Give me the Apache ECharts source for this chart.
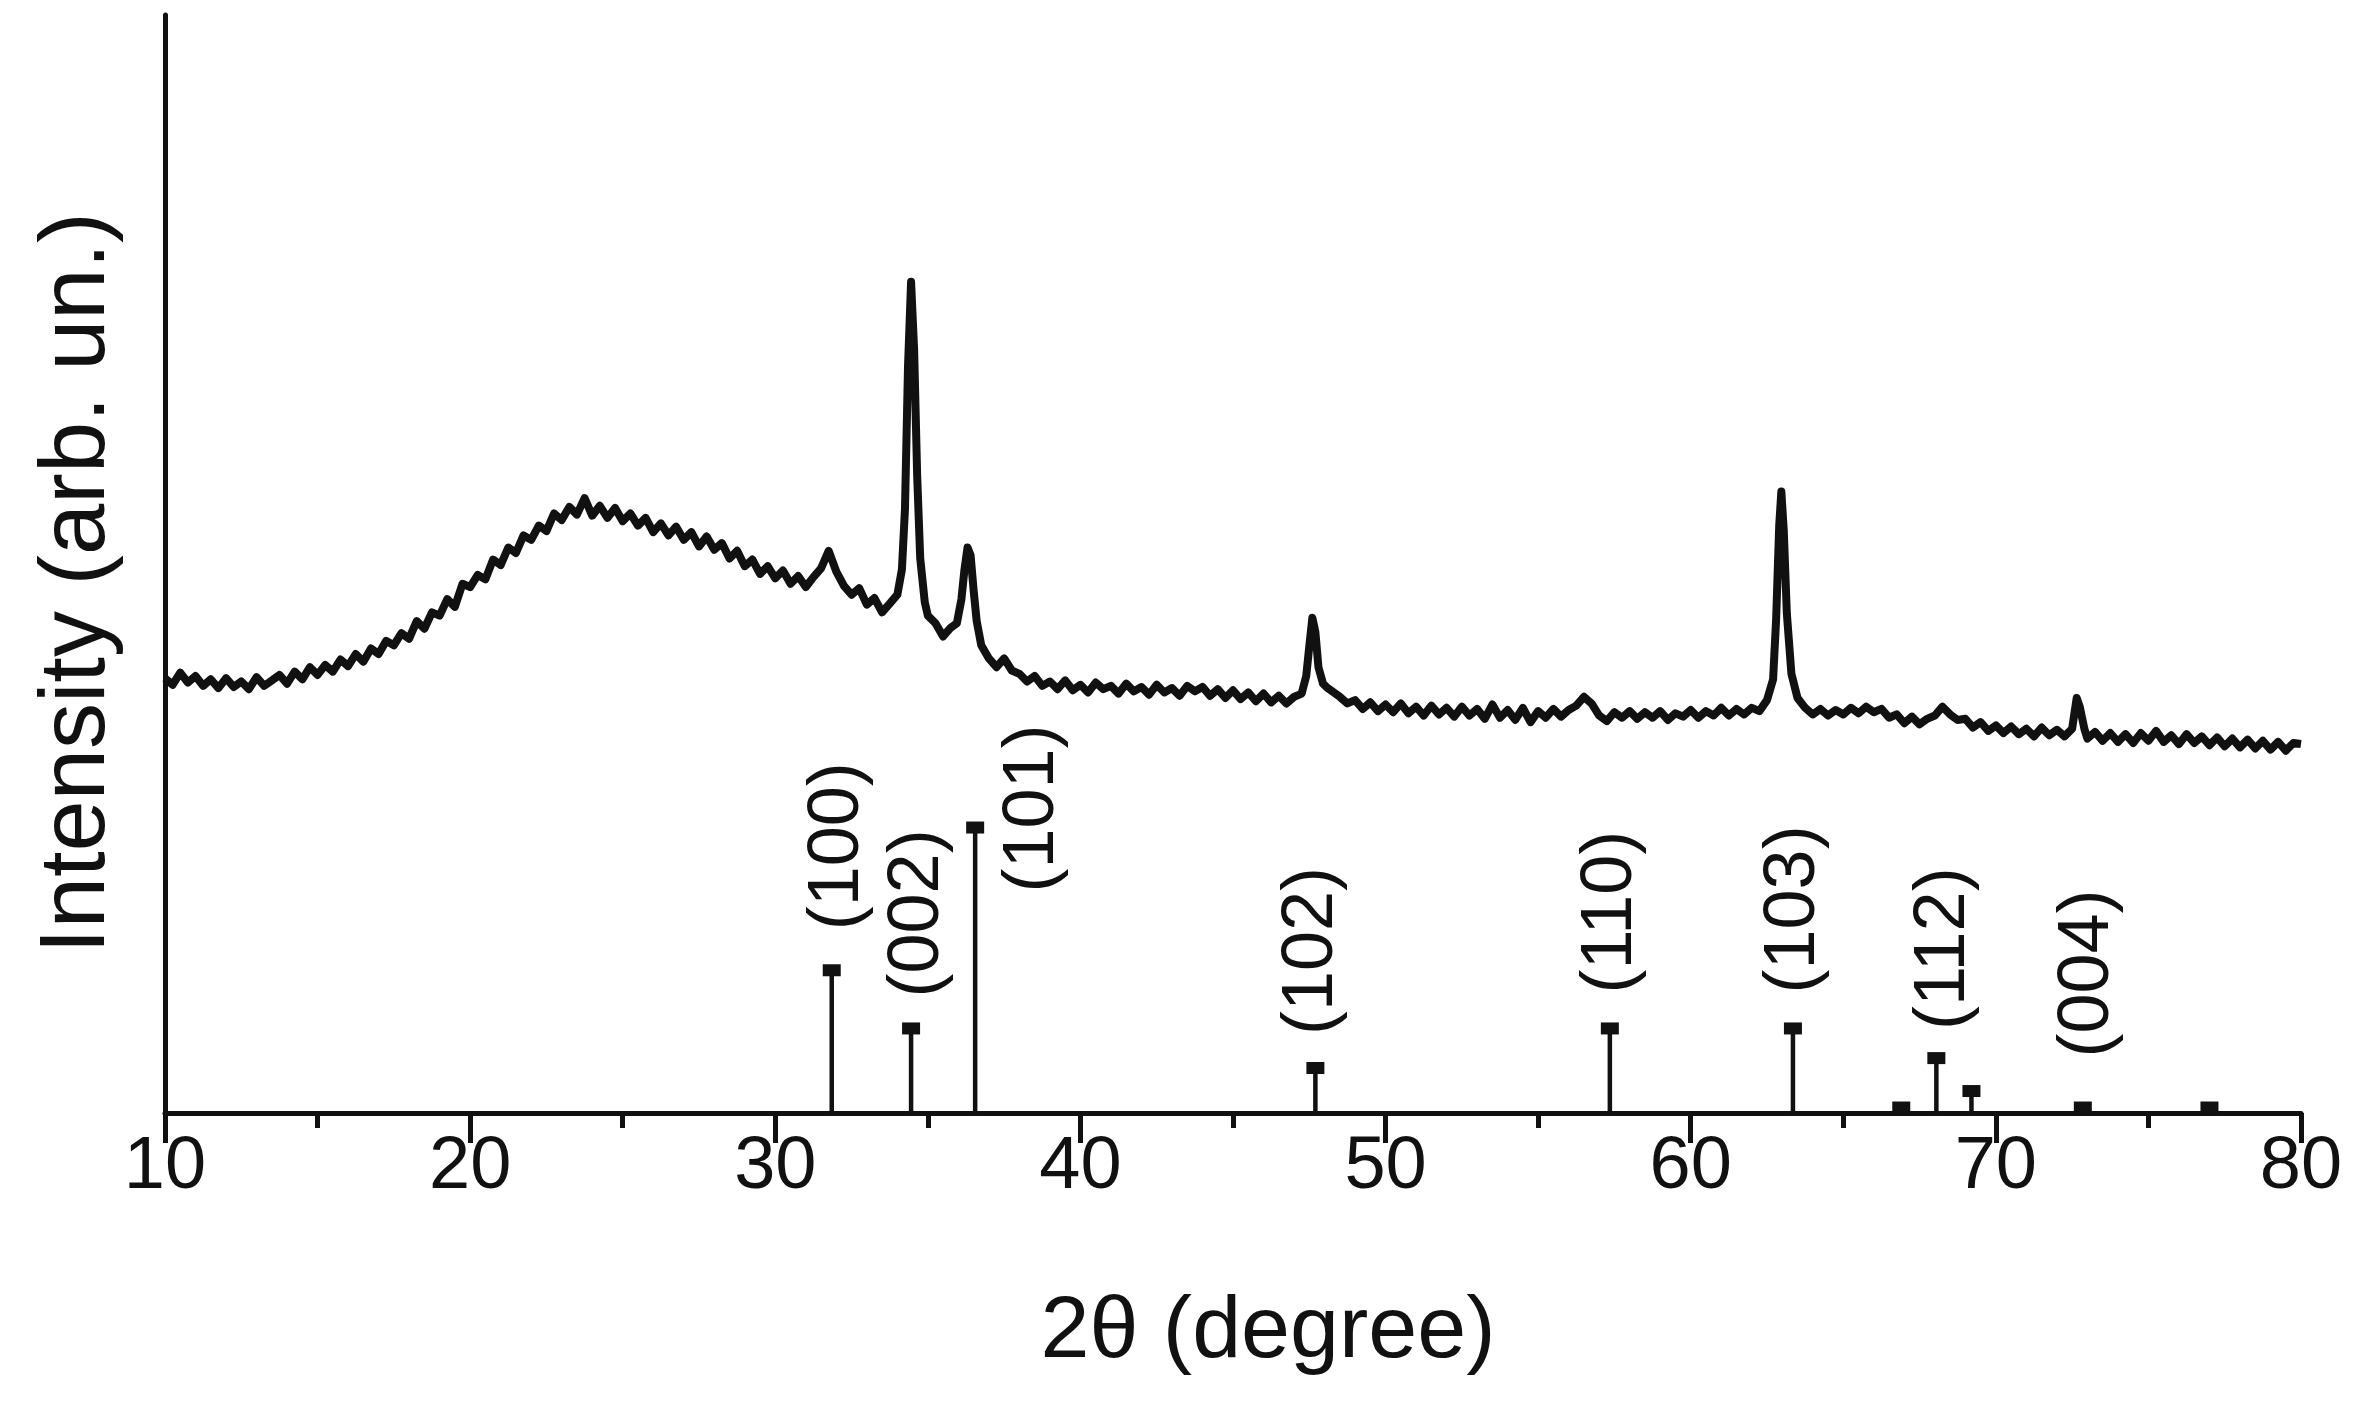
<!DOCTYPE html>
<html>
<head>
<meta charset="utf-8">
<script src="https://cdn.jsdelivr.net/npm/echarts@6/dist/echarts.min.js"></script>
<style>
html,body{margin:0;padding:0;background:#fff;}
#chart{width:2358px;height:1412px;}
</style>
</head>
<body>
<div id="chart"></div>
<script>
// Measured XRD pattern: [2theta (deg), intensity (arb. un.)]
var pattern = [
[10.00,39.6],[10.25,39.0],[10.50,40.1],[10.75,39.2],[11.00,39.8],[11.25,38.9],[11.50,39.5],[11.75,38.7],
[12.00,39.6],[12.25,38.8],[12.50,39.3],[12.75,38.6],[13.00,39.7],[13.25,38.9],[13.50,39.4],[13.75,39.9],
[14.00,39.1],[14.25,40.2],[14.50,39.5],[14.75,40.6],[15.00,39.9],[15.25,40.8],[15.50,40.2],[15.75,41.3],
[16.00,40.7],[16.25,41.8],[16.50,41.1],[16.75,42.3],[17.00,41.8],[17.25,43.0],[17.50,42.6],[17.75,43.7],
[18.00,43.2],[18.25,44.8],[18.50,44.1],[18.75,45.6],[19.00,45.3],[19.25,46.8],[19.50,46.1],[19.75,48.2],
[20.00,47.9],[20.25,49.0],[20.50,48.6],[20.75,50.4],[21.00,49.9],[21.25,51.5],[21.50,51.0],[21.75,52.6],
[22.00,52.2],[22.25,53.5],[22.50,53.0],[22.75,54.6],[23.00,54.0],[23.25,55.2],[23.50,54.5],[23.75,56.0],
[24.00,54.4],[24.25,55.3],[24.50,54.2],[24.75,55.1],[25.00,53.9],[25.25,54.6],[25.50,53.5],[25.75,54.2],
[26.00,52.9],[26.25,53.7],[26.50,52.6],[26.75,53.4],[27.00,52.2],[27.25,52.9],[27.50,51.6],[27.75,52.5],
[28.00,51.3],[28.25,51.9],[28.50,50.5],[28.75,51.2],[29.00,49.8],[29.25,50.4],[29.50,49.1],[29.75,49.8],
[30.00,48.7],[30.25,49.4],[30.50,48.2],[30.75,48.9],[31.00,47.9],[31.25,48.8],[31.50,49.6],[31.75,51.2],
[32.00,49.3],[32.25,48.0],[32.50,47.2],[32.75,47.8],[33.00,46.3],[33.25,46.9],[33.50,45.6],[33.75,46.4],
[34.00,47.2],[34.15,49.5],[34.25,55.0],[34.35,68.0],[34.45,75.7],[34.55,69.5],[34.65,58.0],[34.75,50.5],
[34.90,46.5],[35.00,45.3],[35.25,44.6],[35.50,43.4],[35.75,44.2],[35.95,44.6],[36.10,46.8],[36.20,49.5],
[36.30,51.5],[36.40,50.8],[36.50,47.6],[36.60,44.8],[36.75,42.6],[37.00,41.4],[37.25,40.6],[37.50,41.4],
[37.75,40.3],[38.00,40.0],[38.25,39.3],[38.50,39.8],[38.75,38.9],[39.00,39.3],[39.25,38.6],[39.50,39.4],
[39.75,38.5],[40.00,39.0],[40.25,38.3],[40.50,39.2],[40.75,38.6],[41.00,38.9],[41.25,38.2],[41.50,39.1],
[41.75,38.4],[42.00,38.8],[42.25,38.1],[42.50,39.0],[42.75,38.3],[43.00,38.7],[43.25,38.0],[43.50,38.9],
[43.75,38.4],[44.00,38.8],[44.25,38.0],[44.50,38.6],[44.75,37.8],[45.00,38.5],[45.25,37.7],[45.50,38.3],
[45.75,37.5],[46.00,38.2],[46.25,37.4],[46.50,38.0],[46.75,37.3],[47.00,37.9],[47.25,38.2],[47.40,39.8],
[47.50,42.5],[47.60,45.1],[47.70,43.8],[47.80,40.6],[47.95,39.1],[48.10,38.7],[48.25,38.4],[48.50,37.9],
[48.75,37.3],[49.00,37.6],[49.25,36.8],[49.50,37.4],[49.75,36.6],[50.00,37.2],[50.25,36.5],[50.50,37.3],
[50.75,36.4],[51.00,37.0],[51.25,36.2],[51.50,37.1],[51.75,36.3],[52.00,36.9],[52.25,36.1],[52.50,37.0],
[52.75,36.2],[53.00,36.8],[53.25,35.9],[53.50,37.2],[53.75,36.0],[54.00,36.7],[54.25,35.8],[54.50,36.9],
[54.75,35.6],[55.00,36.6],[55.25,36.0],[55.50,36.8],[55.75,36.1],[56.00,36.7],[56.25,37.1],[56.50,37.9],
[56.75,37.3],[57.00,36.2],[57.25,35.7],[57.50,36.5],[57.75,36.0],[58.00,36.6],[58.25,35.9],[58.50,36.5],
[58.75,36.0],[59.00,36.6],[59.25,35.8],[59.50,36.4],[59.75,36.1],[60.00,36.7],[60.25,36.0],[60.50,36.6],
[60.75,36.2],[61.00,36.9],[61.25,36.2],[61.50,36.8],[61.75,36.3],[62.00,36.9],[62.25,36.6],[62.50,37.6],
[62.70,39.5],[62.80,45.0],[62.90,53.5],[62.97,56.6],[63.05,53.0],[63.15,45.5],[63.30,40.0],[63.50,37.8],
[63.75,36.9],[64.00,36.3],[64.25,36.8],[64.50,36.2],[64.75,36.7],[65.00,36.3],[65.25,36.9],[65.50,36.4],
[65.75,37.0],[66.00,36.5],[66.25,36.8],[66.50,36.0],[66.75,36.3],[67.00,35.5],[67.25,36.1],[67.50,35.4],
[67.75,35.9],[68.00,36.2],[68.25,37.0],[68.50,36.3],[68.75,35.8],[69.00,35.9],[69.25,35.1],[69.50,35.6],
[69.75,34.8],[70.00,35.3],[70.25,34.6],[70.50,35.2],[70.75,34.5],[71.00,35.0],[71.25,34.3],[71.50,35.1],
[71.75,34.4],[72.00,34.9],[72.25,34.3],[72.50,35.0],[72.65,37.8],[72.75,37.0],[72.90,35.0],[73.00,34.1],
[73.25,34.7],[73.50,33.9],[73.75,34.6],[74.00,33.8],[74.25,34.5],[74.50,33.7],[74.75,34.6],[75.00,33.9],
[75.25,34.8],[75.50,33.8],[75.75,34.4],[76.00,33.6],[76.25,34.5],[76.50,33.7],[76.75,34.3],[77.00,33.5],
[77.25,34.2],[77.50,33.4],[77.75,34.1],[78.00,33.3],[78.25,34.0],[78.50,33.2],[78.75,33.9],[79.00,33.1],
[79.25,33.8],[79.50,33.0],[79.75,33.7],[80.00,33.6]
];

// Reference (standard) reflections
var stickPos    = [31.85, 34.45, 36.55, 47.7, 57.35, 63.35, 66.9, 68.05, 69.2, 72.85, 77.0];
var stickHeight = [13.0, 7.7, 26.0, 4.1, 7.7, 7.7, 0.5, 5.0, 2.0, 0.5, 0.5];
var stickLabels = ['(100)', '(002)', '(101)', '(102)', '(110)', '(103)', '', '(112)', '', '(004)', ''];

// X-axis ticks
var xMin = 10, xMax = 80, xStep = 10;
var yMin = 0, yMax = 100;

// label placement (px) relative to stick top: dx right shift, gap above marker
var labelPlace = {
  '(100)': {dx: 6, gap: 40},
  '(002)': {dx: 7, gap: 31},
  '(101)': {dx: 58, gap: -65},
  '(102)': {dx: -3, gap: 33},
  '(110)': {dx: 1, gap: 35},
  '(103)': {dx: 1, gap: 35},
  '(112)': {dx: 8, gap: 28},
  '(004)': {dx: 5, gap: 50}
};

var FONT = '"Liberation Sans", Arial, Helvetica, sans-serif';
var INK = '#111111';

var stickData = stickPos.map(function (p, i) { return [p, stickHeight[i], i]; });

var chart = echarts.init(document.getElementById('chart'));
chart.setOption({
  animation: false,
  backgroundColor: '#ffffff',
  grid: {left: 165, right: 57, top: 15, bottom: 299, containLabel: false},
  xAxis: {
    type: 'value', min: xMin, max: xMax, interval: xStep,
    name: '2\u03b8 (degree)', nameLocation: 'middle', nameGap: 176,
    nameTextStyle: {fontFamily: FONT, fontSize: 88, color: INK, padding: [0, 0, 0, 70]},
    axisLine: {show: true, onZero: false, lineStyle: {color: INK, width: 5}},
    axisTick: {show: true, inside: false, length: 30, lineStyle: {color: INK, width: 5}},
    minorTick: {show: true, splitNumber: 2, length: 15, lineStyle: {color: INK, width: 5}},
    axisLabel: {show: true, margin: 18, fontFamily: FONT, fontSize: 74, color: INK},
    splitLine: {show: false}, minorSplitLine: {show: false}
  },
  yAxis: {
    type: 'value', min: yMin, max: yMax,
    name: 'Intensity (arb. un.)', nameLocation: 'middle', nameGap: 40, nameRotate: 90,
    nameTextStyle: {fontFamily: FONT, fontSize: 92, color: INK, padding: [0, 38, 0, 0]},
    axisLine: {show: true, onZero: false, lineStyle: {color: INK, width: 5}},
    axisTick: {show: false}, axisLabel: {show: false}, splitLine: {show: false}
  },
  series: [
    {
      type: 'line', data: pattern, showSymbol: false, smooth: false,
      lineStyle: {color: INK, width: 8, join: 'round'}, z: 3
    },
    {
      type: 'custom', data: stickData, z: 4,
      renderItem: function (params, api) {
        var x = api.value(0), h = api.value(1), idx = api.value(2);
        var base = api.coord([x, 0]);
        var top = api.coord([x, h]);
        var children = [
          {type: 'line', shape: {x1: base[0], y1: base[1], x2: top[0], y2: top[1]},
           style: {stroke: INK, lineWidth: 4.5}},
          {type: 'rect', shape: {x: top[0] - 9, y: top[1] - 6, width: 18, height: 12},
           style: {fill: INK}}
        ];
        var lab = stickLabels[idx];
        if (lab) {
          var pl = labelPlace[lab];
          children.push({
            type: 'text', x: top[0] + pl.dx, y: top[1] - pl.gap, rotation: Math.PI / 2,
            style: {text: lab, font: '72px ' + FONT, fill: INK, align: 'left', verticalAlign: 'middle'}
          });
        }
        return {type: 'group', children: children};
      }
    }
  ]
});
</script>
</body>
</html>
